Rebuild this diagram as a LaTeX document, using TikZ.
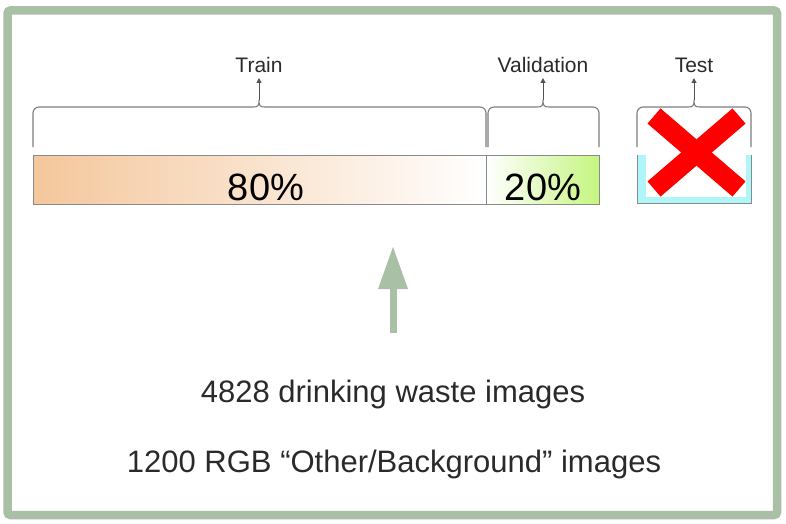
\documentclass[tikz,border=0pt]{standalone}
\usepackage{fontspec}
\setmainfont{Liberation Sans}
\usetikzlibrary{arrows.meta}
\definecolor{frameg}{HTML}{A9BFA6}
\definecolor{peach}{HTML}{F4C79C}
\definecolor{lgreen}{HTML}{C5F580}
\definecolor{tcyan}{HTML}{AEF6F8}
\definecolor{bargray}{HTML}{8A8A8A}
\definecolor{txt}{HTML}{2A2A2A}
\tikzset{
  barbox/.style={draw=bargray, line width=1pt, inner sep=0pt, minimum height=49pt},
  pct/.style={anchor=base, inner sep=0pt, font=\fontsize{38}{40}\selectfont, text=black},
  lab/.style={anchor=base, inner sep=0pt, font=\fontsize{21}{24}\selectfont, text=txt},
  info/.style={anchor=base, inner sep=0pt, font=\fontsize{31}{34}\selectfont, text=txt},
  bracel/.style={draw=bargray!90!black, line width=1.1pt, rounded corners=6pt},
  uparrow/.style={draw=bargray!60!black, line width=1pt, -{Triangle[length=5pt,width=5pt]}},
}
\begin{document}
\begin{tikzpicture}[x=1pt,y=-1pt]
\useasboundingbox (0,0) rectangle (786,524);
% frame
\draw[frameg, line width=8.5pt, rounded corners=3pt] (7.5,10.5) rectangle (777,515);
% bars
\node[barbox, left color=peach, right color=white, minimum width=453pt] (train) at (259.5,179.5) {};
\node[barbox, left color=white, right color=lgreen, minimum width=113pt] (val) at (542.5,179.5) {};
\node[pct] (p80) at (266,200) {80\%};
\node[pct] (p20) at (543,200) {20\%};
% test box
\fill[tcyan] (637,155) rectangle (751,203);
\fill[white] (646,155) rectangle (746,197);
\coordinate (ta) at (637,155);
\coordinate (tb) at (751,155);
\draw[bargray, line width=1pt] (ta) -- (637,203) -- (751,203) -- (tb);
% red X
\coordinate (x1) at (654,116);
\coordinate (x2) at (739,189);
\coordinate (x3) at (739,116);
\coordinate (x4) at (654,189);
\draw[red, line width=20pt] (x1) -- (x2);
\draw[red, line width=20pt] (x3) -- (x4);
% braces
\newcommand{\mybrace}[3]{%
  \draw[bracel] (#1,147) -- (#1,107) -- (#2-6,107);
  \draw[bracel, rounded corners=0pt] (#2-6,107) .. controls (#2-1,107) and (#2,106) .. (#2,100)
     .. controls (#2,106) and (#2+1,107) .. (#2+6,107);
  \draw[bracel] (#2+6,107) -- (#3,107) -- (#3,147);
}
\mybrace{33}{259}{486}
\mybrace{488}{543}{599}
\mybrace{637}{694}{751}
\coordinate (bt) at (259,100);
\coordinate (bv) at (543,100);
\coordinate (bs) at (694,100);
\node[lab] (ltrain) at (259,73) {Train};
\node[lab] (lval) at (543,73) {Validation};
\node[lab] (ltest) at (694,73) {Test};
\draw[uparrow] (bt) -- (259,78);
\draw[uparrow] (bv) -- (543,78);
\draw[uparrow] (bs) -- (694,78);
% green arrow
\coordinate (gs) at (393,333);
\coordinate (gh) at (393,289);
\coordinate (gt) at (393,247);
\fill[frameg] (389.5,333) rectangle (396.5,288);
\fill[frameg] (378,289) -- (gt) -- (408,289) -- cycle;
% info text
\node[info] (i1) at (393,402) {4828 drinking waste images};
\node[info] (i2) at (394,472) {1200 RGB “Other/Background” images};
\end{tikzpicture}
\end{document}
